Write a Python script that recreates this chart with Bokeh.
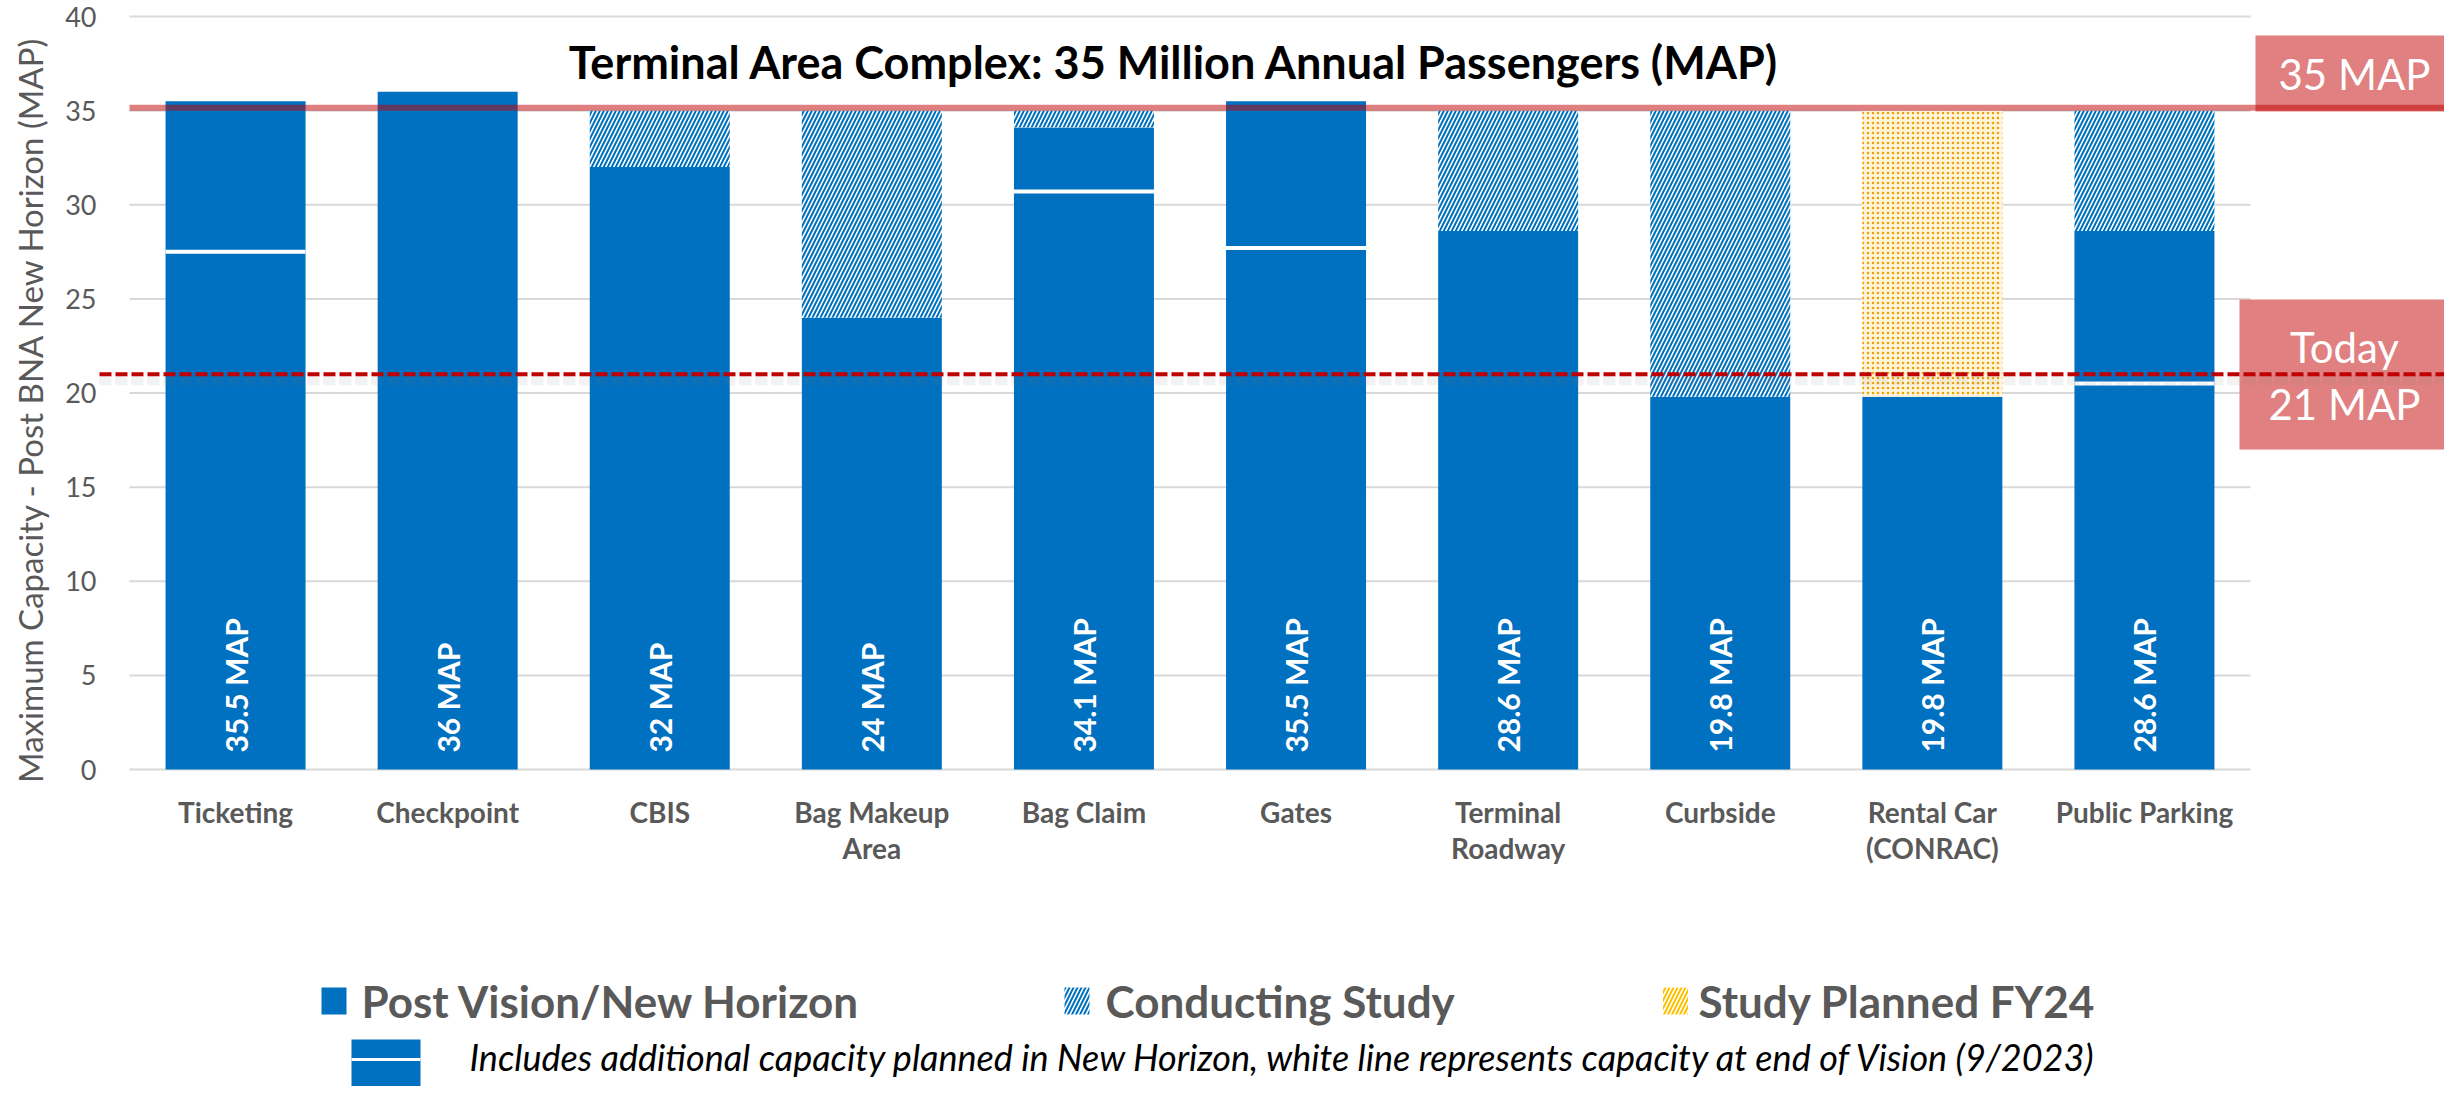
import numpy as np
from bokeh.plotting import figure
from bokeh.models import Range1d
from bokeh.core.properties import value
from bokeh.embed import file_html
from bokeh.resources import INLINE

# ---------------- data ----------------
categories = ["Ticketing", "Checkpoint", "CBIS", "Bag Makeup\nArea", "Bag Claim",
              "Gates", "Terminal\nRoadway", "Curbside", "Rental Car\n(CONRAC)", "Public Parking"]
post_vision = [35.5, 36.0, 32.0, 24.0, 34.1, 35.5, 28.6, 19.8, 19.8, 28.6]
end_of_vision = [27.5, None, None, None, 30.7, 27.7, None, None, None, 20.5]
conducting_study = [0.0, 0.0, 3.0, 11.0, 0.9, 0.0, 6.4, 15.2, 0.0, 6.4]
study_planned = [0.0, 0.0, 0.0, 0.0, 0.0, 0.0, 0.0, 0.0, 15.2, 0.0]
y_ticks = [0, 5, 10, 15, 20, 25, 30, 35, 40]
target_line_y = 35.15
today_map = 21
title_text = "Terminal Area Complex: 35 Million Annual Passengers (MAP)"
y_title = "Maximum Capacity - Post BNA New Horizon (MAP)"
legend_labels = ["Post Vision/New Horizon", "Conducting Study", "Study Planned FY24"]
note_text = ("Includes additional capacity planned in New Horizon, white line represents "
             "capacity at end of Vision (9/2023)")
target_box_text = "35 MAP"
today_box_text = ["Today", "21 MAP"]

# ---------------- layout helpers (page pixels -> data) ----------------
W, H = 2444, 1086
OFF = 1
X_PX0, CAT_PX = 130.0, 212.1
Y_PX0, UNIT_PX = 770.0, 18.825


def dx(px):
    return (px - X_PX0) / CAT_PX


def dy(py):
    return (Y_PX0 - py) / UNIT_PX


BLUE = "#0070C0"
GRAY = "#595959"
FONT = value("Lato")

p = figure(width=W, height=H,
           x_range=Range1d(dx(OFF), dx(OFF + W)),
           y_range=Range1d(dy(OFF + H), dy(OFF)),
           output_backend="svg", toolbar_location=None,
           x_axis_location=None, y_axis_location=None,
           min_border=0, outline_line_color=None)
p.grid.grid_line_color = None
p.background_fill_color = "white"
p.border_fill_color = "white"

n = len(categories)
xc = np.arange(n) + 0.5
bw = 0.66

# gridlines
p.segment(x0=[0] * len(y_ticks), y0=y_ticks, x1=[n] * len(y_ticks), y1=y_ticks,
          line_color="#D9D9D9", line_width=2)

# solid bars
p.vbar(x=xc, width=bw, bottom=0, top=post_vision, fill_color=BLUE, line_color=None)

pv = np.array(post_vision)
cs = np.array(conducting_study)
sp = np.array(study_planned)
m = cs > 0
p.vbar(x=xc[m], width=bw, bottom=pv[m], top=(pv + cs)[m], fill_color="white",
       line_color=None, hatch_pattern="right_diagonal_line", hatch_color=BLUE,
       hatch_scale=8, hatch_weight=2)
m2 = sp > 0
p.vbar(x=xc[m2], width=bw, bottom=pv[m2], top=(pv + sp)[m2], fill_color="#FFF4DA",
       line_color=None, hatch_pattern="dot", hatch_color="#F0A000",
       hatch_scale=5, hatch_weight=2)

# white lines (end of Vision)
wi = [i for i, v in enumerate(end_of_vision) if v is not None]
p.segment(x0=[xc[i] - bw / 2 for i in wi], x1=[xc[i] + bw / 2 for i in wi],
          y0=[end_of_vision[i] for i in wi], y1=[end_of_vision[i] for i in wi],
          line_color="white", line_width=4)

# bar value labels
p.text(x=xc, y=[0.9] * n, text=[f"{v:g} MAP" for v in post_vision], angle=np.pi / 2,
       text_align="left", text_baseline="middle", text_color="white",
       text_font=FONT, text_font_style="bold", text_font_size="30px")

# category labels
lx, ly, lt = [], [], []
for i, c in enumerate(categories):
    for j, line in enumerate(c.split("\n")):
        lx.append(xc[i])
        ly.append(dy(812 + 36 * j))
        lt.append(line)
p.text(x=lx, y=ly, text=lt, text_align="center", text_baseline="middle",
       text_color=GRAY, text_font=FONT, text_font_style="bold", text_font_size="28px")

# y tick labels
p.text(x=[dx(97)] * len(y_ticks), y=y_ticks, text=[str(t) for t in y_ticks],
       text_align="right", text_baseline="middle", text_color=GRAY,
       text_font=FONT, text_font_size="27px")

# y title
p.text(x=[dx(30)], y=[dy(410)], text=[y_title], angle=np.pi / 2, text_align="center",
       text_baseline="middle", text_color=GRAY, text_font=FONT, text_font_size="33px")

# chart title
p.text(x=[dx(1175)], y=[dy(62)], text=[title_text], text_align="center",
       text_baseline="middle", text_color="black", text_font=FONT,
       text_font_style="bold", text_font_size="45px")

# right boxes
p.quad(left=[dx(2256), dx(2240)], right=[dx(2460), dx(2448)],
       top=[dy(36), dy(300)], bottom=[dy(112), dy(450)],
       fill_color="#E08080", line_color=None)

# 35 MAP line
p.segment(x0=[0], y0=[target_line_y], x1=[dx(2460)], y1=[target_line_y],
          line_color="#C00000", line_alpha=0.5, line_width=6)

# today dashed line with soft shadow
p.segment(x0=[dx(100)], y0=[today_map - 6 / UNIT_PX], x1=[dx(2455)], y1=[today_map - 6 / UNIT_PX],
          line_color="#808080", line_alpha=0.10, line_width=10, line_dash="12 4")
p.segment(x0=[dx(100)], y0=[today_map], x1=[dx(2455)], y1=[today_map],
          line_color="#C00000", line_width=4, line_dash="12 4")

# box texts
p.text(x=[dx(2355), dx(2345), dx(2345)], y=[dy(74), dy(347), dy(404)],
       text=[target_box_text] + today_box_text, text_align="center", text_baseline="middle",
       text_color="white", text_font=FONT, text_font_size="42px")

# legend
ly0 = dy(1001.5)
sw, sh = 25 / CAT_PX, 27 / UNIT_PX
p.rect(x=[dx(334.5)], y=[ly0], width=sw, height=sh, fill_color=BLUE, line_color=None)
p.rect(x=[dx(1077.5)], y=[ly0], width=sw, height=sh, fill_color="white", line_color=None,
       hatch_pattern="right_diagonal_line", hatch_color=BLUE, hatch_scale=8, hatch_weight=2)
p.rect(x=[dx(1676)], y=[ly0], width=sw, height=sh, fill_color="white", line_color=None,
       hatch_pattern="right_diagonal_line", hatch_color="#FFC000", hatch_scale=8, hatch_weight=2)
p.text(x=[dx(362), dx(1106), dx(1699)], y=[ly0] * 3, text=legend_labels,
       text_align="left", text_baseline="middle", text_color=GRAY, text_font=FONT,
       text_font_style="bold", text_font_size="44px")

# note row
p.quad(left=[dx(352)], right=[dx(421)], top=[dy(1040)], bottom=[dy(1090)],
       fill_color=BLUE, line_color=None)
p.segment(x0=[dx(352)], x1=[dx(421)], y0=[dy(1060)], y1=[dy(1060)],
          line_color="white", line_width=3)
p.text(x=[dx(470)], y=[dy(1057)], text=[note_text], text_align="left",
       text_baseline="middle", text_color="black", text_font=FONT,
       text_font_style="italic", text_font_size="36px")

open("out.html", "w").write(file_html(p, INLINE))
